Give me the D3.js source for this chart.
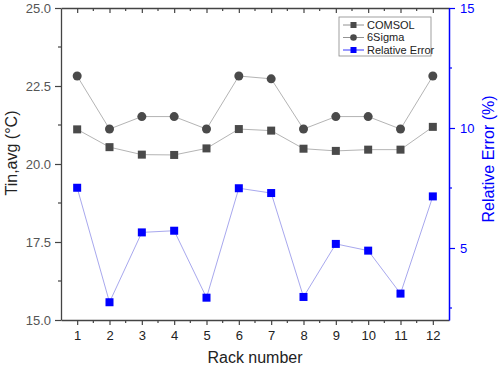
<!DOCTYPE html>
<html>
<head>
<meta charset="utf-8">
<script src="https://cdn.jsdelivr.net/npm/d3@7"></script>
<style>
body { margin: 0; background: #fff; }
text { font-family: "Liberation Sans", Arial, sans-serif; }
</style>
</head>
<body>
<div id="chart"></div>
<script>
var racks = [1, 2, 3, 4, 5, 6, 7, 8, 9, 10, 11, 12];
var comsol = [21.11, 20.54, 20.30, 20.29, 20.50, 21.12, 21.07, 20.49, 20.42, 20.46, 20.46, 21.19];
var sigma6 = [22.82, 21.12, 21.52, 21.52, 21.12, 22.82, 22.73, 21.12, 21.52, 21.52, 21.12, 22.82];
var relError = [7.51, 2.74, 5.65, 5.72, 2.93, 7.49, 7.29, 2.96, 5.17, 4.89, 3.10, 7.15];
var leftTicks = [15, 17.5, 20, 22.5, 25];
var rightTicks = [5, 10, 15];

var margin = {top: 8, right: 49, bottom: 49, left: 61};
var width = 498 - margin.left - margin.right, height = 369 - margin.top - margin.bottom;

var svg = d3.select("#chart").append("svg")
    .attr("width", 498).attr("height", 369)
  .append("g")
    .attr("transform", "translate(" + margin.left + "," + margin.top + ")");

var x = d3.scaleLinear().domain([0.5, 12.5]).range([0, width]);
var y = d3.scaleLinear().domain([15, 25]).range([height, 0]);
var y2 = d3.scaleLinear().domain([2, 15]).range([height, 0]);

var axisCol = "#444", labCol = "#555", blue = "#0000ff";

// minor tick helper
function minor(g, vals, fn) {
  g.selectAll("line.mn").data(vals).enter().append("line").attr("class", "mn").each(fn);
}

// bottom axis
var xb = svg.append("g").attr("transform", "translate(0," + height + ")")
  .call(d3.axisBottom(x).tickValues(racks).tickSize(5).tickSizeOuter(0).tickFormat(d3.format("d")));
xb.select(".domain").attr("stroke", axisCol).attr("stroke-width", 1.3);
xb.selectAll(".tick line").attr("stroke", axisCol).attr("stroke-width", 1.2);
xb.selectAll(".tick text").attr("fill", "#222").attr("font-size", 13).attr("dy", "0.9em");
minor(xb, d3.range(1.5, 12.5, 1), function(d) {
  d3.select(this).attr("x1", x(d)).attr("x2", x(d)).attr("y1", 0).attr("y2", 3).attr("stroke", axisCol).attr("stroke-width", 1.2);
});

// top axis (ticks inward, no labels)
var xt = svg.append("g")
  .call(d3.axisBottom(x).tickValues(racks).tickSize(5).tickSizeOuter(0).tickFormat(""));
xt.select(".domain").attr("stroke", axisCol).attr("stroke-width", 1.3);
xt.selectAll(".tick line").attr("stroke", axisCol).attr("stroke-width", 1.2);
minor(xt, d3.range(1.5, 12.5, 1), function(d) {
  d3.select(this).attr("x1", x(d)).attr("x2", x(d)).attr("y1", 0).attr("y2", 3).attr("stroke", axisCol).attr("stroke-width", 1.2);
});

// left axis
var yl = svg.append("g")
  .call(d3.axisLeft(y).tickValues(leftTicks).tickSize(6).tickSizeOuter(0).tickFormat(d3.format(".1f")));
yl.select(".domain").attr("stroke", axisCol).attr("stroke-width", 1.3);
yl.selectAll(".tick line").attr("stroke", axisCol).attr("stroke-width", 1.2);
yl.selectAll(".tick text").attr("fill", labCol).attr("font-size", 13).attr("x", -10);
minor(yl, [16.25, 18.75, 21.25, 23.75], function(d) {
  d3.select(this).attr("x1", 0).attr("x2", -3).attr("y1", y(d)).attr("y2", y(d)).attr("stroke", axisCol).attr("stroke-width", 1.2);
});

// right axis
var yr = svg.append("g").attr("transform", "translate(" + width + ",0)")
  .call(d3.axisRight(y2).tickValues(rightTicks).tickSize(6).tickSizeOuter(0).tickFormat(d3.format("d")));
yr.select(".domain").attr("stroke", blue).attr("stroke-width", 1.5);
yr.selectAll(".tick line").attr("stroke", blue).attr("stroke-width", 1.2);
yr.selectAll(".tick text").attr("fill", blue).attr("font-size", 13).attr("x", 11);
minor(yr, [2.5, 7.5, 12.5], function(d) {
  d3.select(this).attr("x1", 0).attr("x2", 3).attr("y1", y2(d)).attr("y2", y2(d)).attr("stroke", blue).attr("stroke-width", 1.2);
});

// axis titles
svg.append("text")
  .attr("transform", "rotate(-90)")
  .attr("x", -145).attr("y", -margin.left + 17)
  .attr("text-anchor", "middle").attr("font-size", 16).attr("fill", "#222")
  .text("Tin,avg (°C)");

svg.append("text")
  .attr("x", width / 2).attr("y", height + 43)
  .attr("text-anchor", "middle").attr("font-size", 16).attr("fill", "#222")
  .text("Rack number");

svg.append("text")
  .attr("transform", "rotate(-90)")
  .attr("x", -151).attr("y", width + 45)
  .attr("text-anchor", "middle").attr("font-size", 16).attr("fill", blue)
  .text("Relative Error (%)");

// series
var grayLine = "#b4b4b4", markCol = "#4a4a4a", blueLine = "#a8a8ee";

function drawLine(vals, yscale, col) {
  svg.append("path")
    .datum(vals)
    .attr("fill", "none").attr("stroke", col).attr("stroke-width", 1)
    .attr("d", d3.line().x(function(d, i) { return x(racks[i]); }).y(function(d) { return yscale(d); }));
}
drawLine(comsol, y, grayLine);
drawLine(sigma6, y, grayLine);
drawLine(relError, y2, blueLine);

svg.selectAll("rect.comsol").data(comsol).enter().append("rect")
  .attr("class", "comsol")
  .attr("x", function(d, i) { return x(racks[i]) - 4; })
  .attr("y", function(d) { return y(d) - 4; })
  .attr("width", 8).attr("height", 8).attr("fill", markCol);

svg.selectAll("circle.sigma").data(sigma6).enter().append("circle")
  .attr("class", "sigma")
  .attr("cx", function(d, i) { return x(racks[i]); })
  .attr("cy", function(d) { return y(d); })
  .attr("r", 4.5).attr("fill", markCol);

svg.selectAll("rect.err").data(relError).enter().append("rect")
  .attr("class", "err")
  .attr("x", function(d, i) { return x(racks[i]) - 4; })
  .attr("y", function(d) { return y2(d) - 4; })
  .attr("width", 8).attr("height", 8).attr("fill", blue);

// legend
var group = ["COMSOL", "6Sigma", "Relative Error"];
var legend = svg.append("g").attr("transform", "translate(" + (339 - margin.left) + "," + (17 - margin.top) + ")");
legend.append("rect").attr("width", 92).attr("height", 39)
  .attr("fill", "#fff").attr("stroke", "#888").attr("stroke-width", 0.8);
group.forEach(function(g, i) {
  var cy = 8 + i * 12.5;
  legend.append("line").attr("x1", 4).attr("x2", 25).attr("y1", cy).attr("y2", cy)
    .attr("stroke", i == 2 ? blue : "#777").attr("stroke-width", 0.8);
  if (i == 1) legend.append("circle").attr("cx", 14.5).attr("cy", cy).attr("r", 3.3).attr("fill", markCol);
  else legend.append("rect").attr("x", 11.5).attr("y", cy - 3).attr("width", 6).attr("height", 6).attr("fill", i == 2 ? blue : markCol);
  legend.append("text").attr("x", 28).attr("y", cy).attr("dy", "0.35em")
    .attr("font-size", 11).attr("fill", "#222").text(g);
});
</script>
</body>
</html>
